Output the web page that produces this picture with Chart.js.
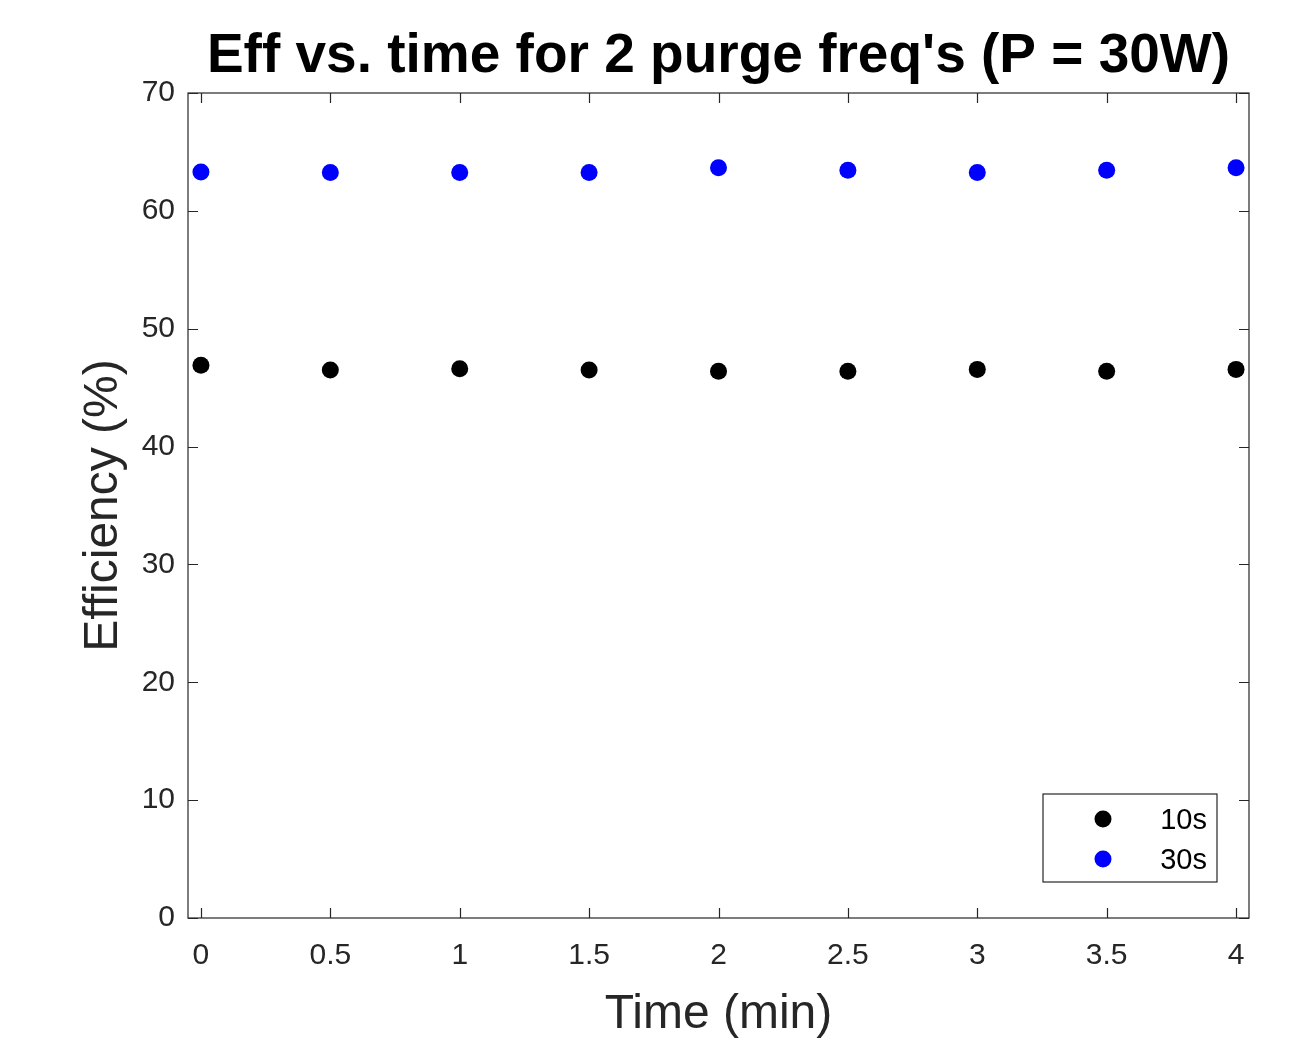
<!DOCTYPE html>
<html><head><meta charset="utf-8">
<script src="https://cdn.jsdelivr.net/npm/chart.js@4.4.1/dist/chart.umd.min.js"></script>
<style>html,body{margin:0;padding:0;background:#fff;overflow:hidden}</style>
</head><body>
<canvas id="c" width="1308" height="1039"></canvas>
<script>
const times = [0, 0.5, 1, 1.5, 2, 2.5, 3, 3.5, 4];
const eff10s = [46.9, 46.5, 46.6, 46.5, 46.4, 46.4, 46.55, 46.4, 46.55];
const eff30s = [63.3, 63.25, 63.25, 63.25, 63.65, 63.45, 63.25, 63.45, 63.65];
const seriesNames = ['10s', '30s'];
const xTicks = [0, 0.5, 1, 1.5, 2, 2.5, 3, 3.5, 4];
const yTicks = [0, 10, 20, 30, 40, 50, 60, 70];
const titleText = "Eff vs. time for 2 purge freq's (P = 30W)";
const xTitle = 'Time (min)';
const yTitle = 'Efficiency (%)';

const AX = '#262626';
const FONT = "'Liberation Sans', Arial, Helvetica, sans-serif";

const framePlugin = {
  id: 'frame',
  afterDraw(chart) {
    const {ctx, chartArea: a, scales: {x, y}} = chart;
    ctx.save();
    ctx.strokeStyle = AX;
    ctx.lineWidth = 1.2;
    ctx.strokeRect(a.left, a.top, a.right - a.left, a.bottom - a.top);
    const tl = 10;
    ctx.beginPath();
    xTicks.forEach(v => {
      const px = Math.round(x.getPixelForValue(v)) + 0.5;
      ctx.moveTo(px, a.bottom); ctx.lineTo(px, a.bottom - tl);
      ctx.moveTo(px, a.top); ctx.lineTo(px, a.top + tl);
    });
    yTicks.forEach(v => {
      const py = Math.round(y.getPixelForValue(v)) + 0.5;
      ctx.moveTo(a.left, py); ctx.lineTo(a.left + tl, py);
      ctx.moveTo(a.right, py); ctx.lineTo(a.right - tl, py);
    });
    ctx.stroke();

    // title
    ctx.fillStyle = '#000';
    ctx.font = 'bold 55px ' + FONT;
    ctx.textAlign = 'center';
    ctx.textBaseline = 'middle';
    ctx.fillText(titleText, (a.left + a.right) / 2, 57);

    // legend
    const lx = 1043, ly = 794, lw = 174, lh = 88;
    ctx.fillStyle = '#fff';
    ctx.fillRect(lx, ly, lw, lh);
    ctx.strokeStyle = AX;
    ctx.lineWidth = 1.2;
    ctx.strokeRect(lx, ly, lw, lh);
    ctx.font = '29px ' + FONT;
    ctx.textAlign = 'right';
    chart.data.datasets.forEach((ds, i) => {
      const cy = ly + 25 + i * 40;
      ctx.fillStyle = ds.backgroundColor;
      ctx.beginPath();
      ctx.arc(lx + 60, cy, 8.5, 0, Math.PI * 2);
      ctx.fill();
      ctx.fillStyle = '#000';
      ctx.fillText(ds.label, lx + 164, cy + 2);
    });
    ctx.restore();
  }
};

const toPts = arr => times.map((t, i) => ({x: t, y: arr[i]}));

new Chart(document.getElementById('c'), {
  type: 'scatter',
  data: {
    datasets: [
      {label: seriesNames[0], data: toPts(eff10s), backgroundColor: '#000000', borderWidth: 0, pointRadius: 8.5, pointHoverRadius: 8.5},
      {label: seriesNames[1], data: toPts(eff30s), backgroundColor: '#0000ff', borderWidth: 0, pointRadius: 8.5, pointHoverRadius: 8.5}
    ]
  },
  options: {
    responsive: false,
    animation: false,
    events: [],
    layout: {padding: {top: 93, right: 59, bottom: 0, left: 0}},
    plugins: {legend: {display: false}, title: {display: false}, tooltip: {enabled: false}},
    scales: {
      x: {
        type: 'linear', min: -0.05, max: 4.05,
        grid: {display: false, drawTicks: false},
        border: {display: false},
        afterBuildTicks: s => { s.ticks = xTicks.map(v => ({value: v})); },
        afterFit: s => { s.height = 121; },
        ticks: {color: AX, font: {family: FONT, size: 30}, padding: 20, maxRotation: 0, autoSkip: false,
          callback: v => String(v)},
        title: {display: true, text: xTitle, color: AX, font: {family: FONT, size: 48, lineHeight: 1}, padding: {top: 0, bottom: 0}}
      },
      y: {
        type: 'linear', min: 0, max: 70,
        grid: {display: false, drawTicks: false},
        border: {display: false},
        afterBuildTicks: s => { s.ticks = yTicks.map(v => ({value: v})); },
        afterFit: s => { s.width = 188; },
        ticks: {color: AX, font: {family: FONT, size: 30}, padding: 13, autoSkip: false,
          callback: v => String(v)},
        title: {display: true, text: yTitle, color: AX, font: {family: FONT, size: 48, lineHeight: 1}, padding: {top: 80, bottom: 0}}
      }
    }
  },
  plugins: [framePlugin]
});
</script>
</body></html>
